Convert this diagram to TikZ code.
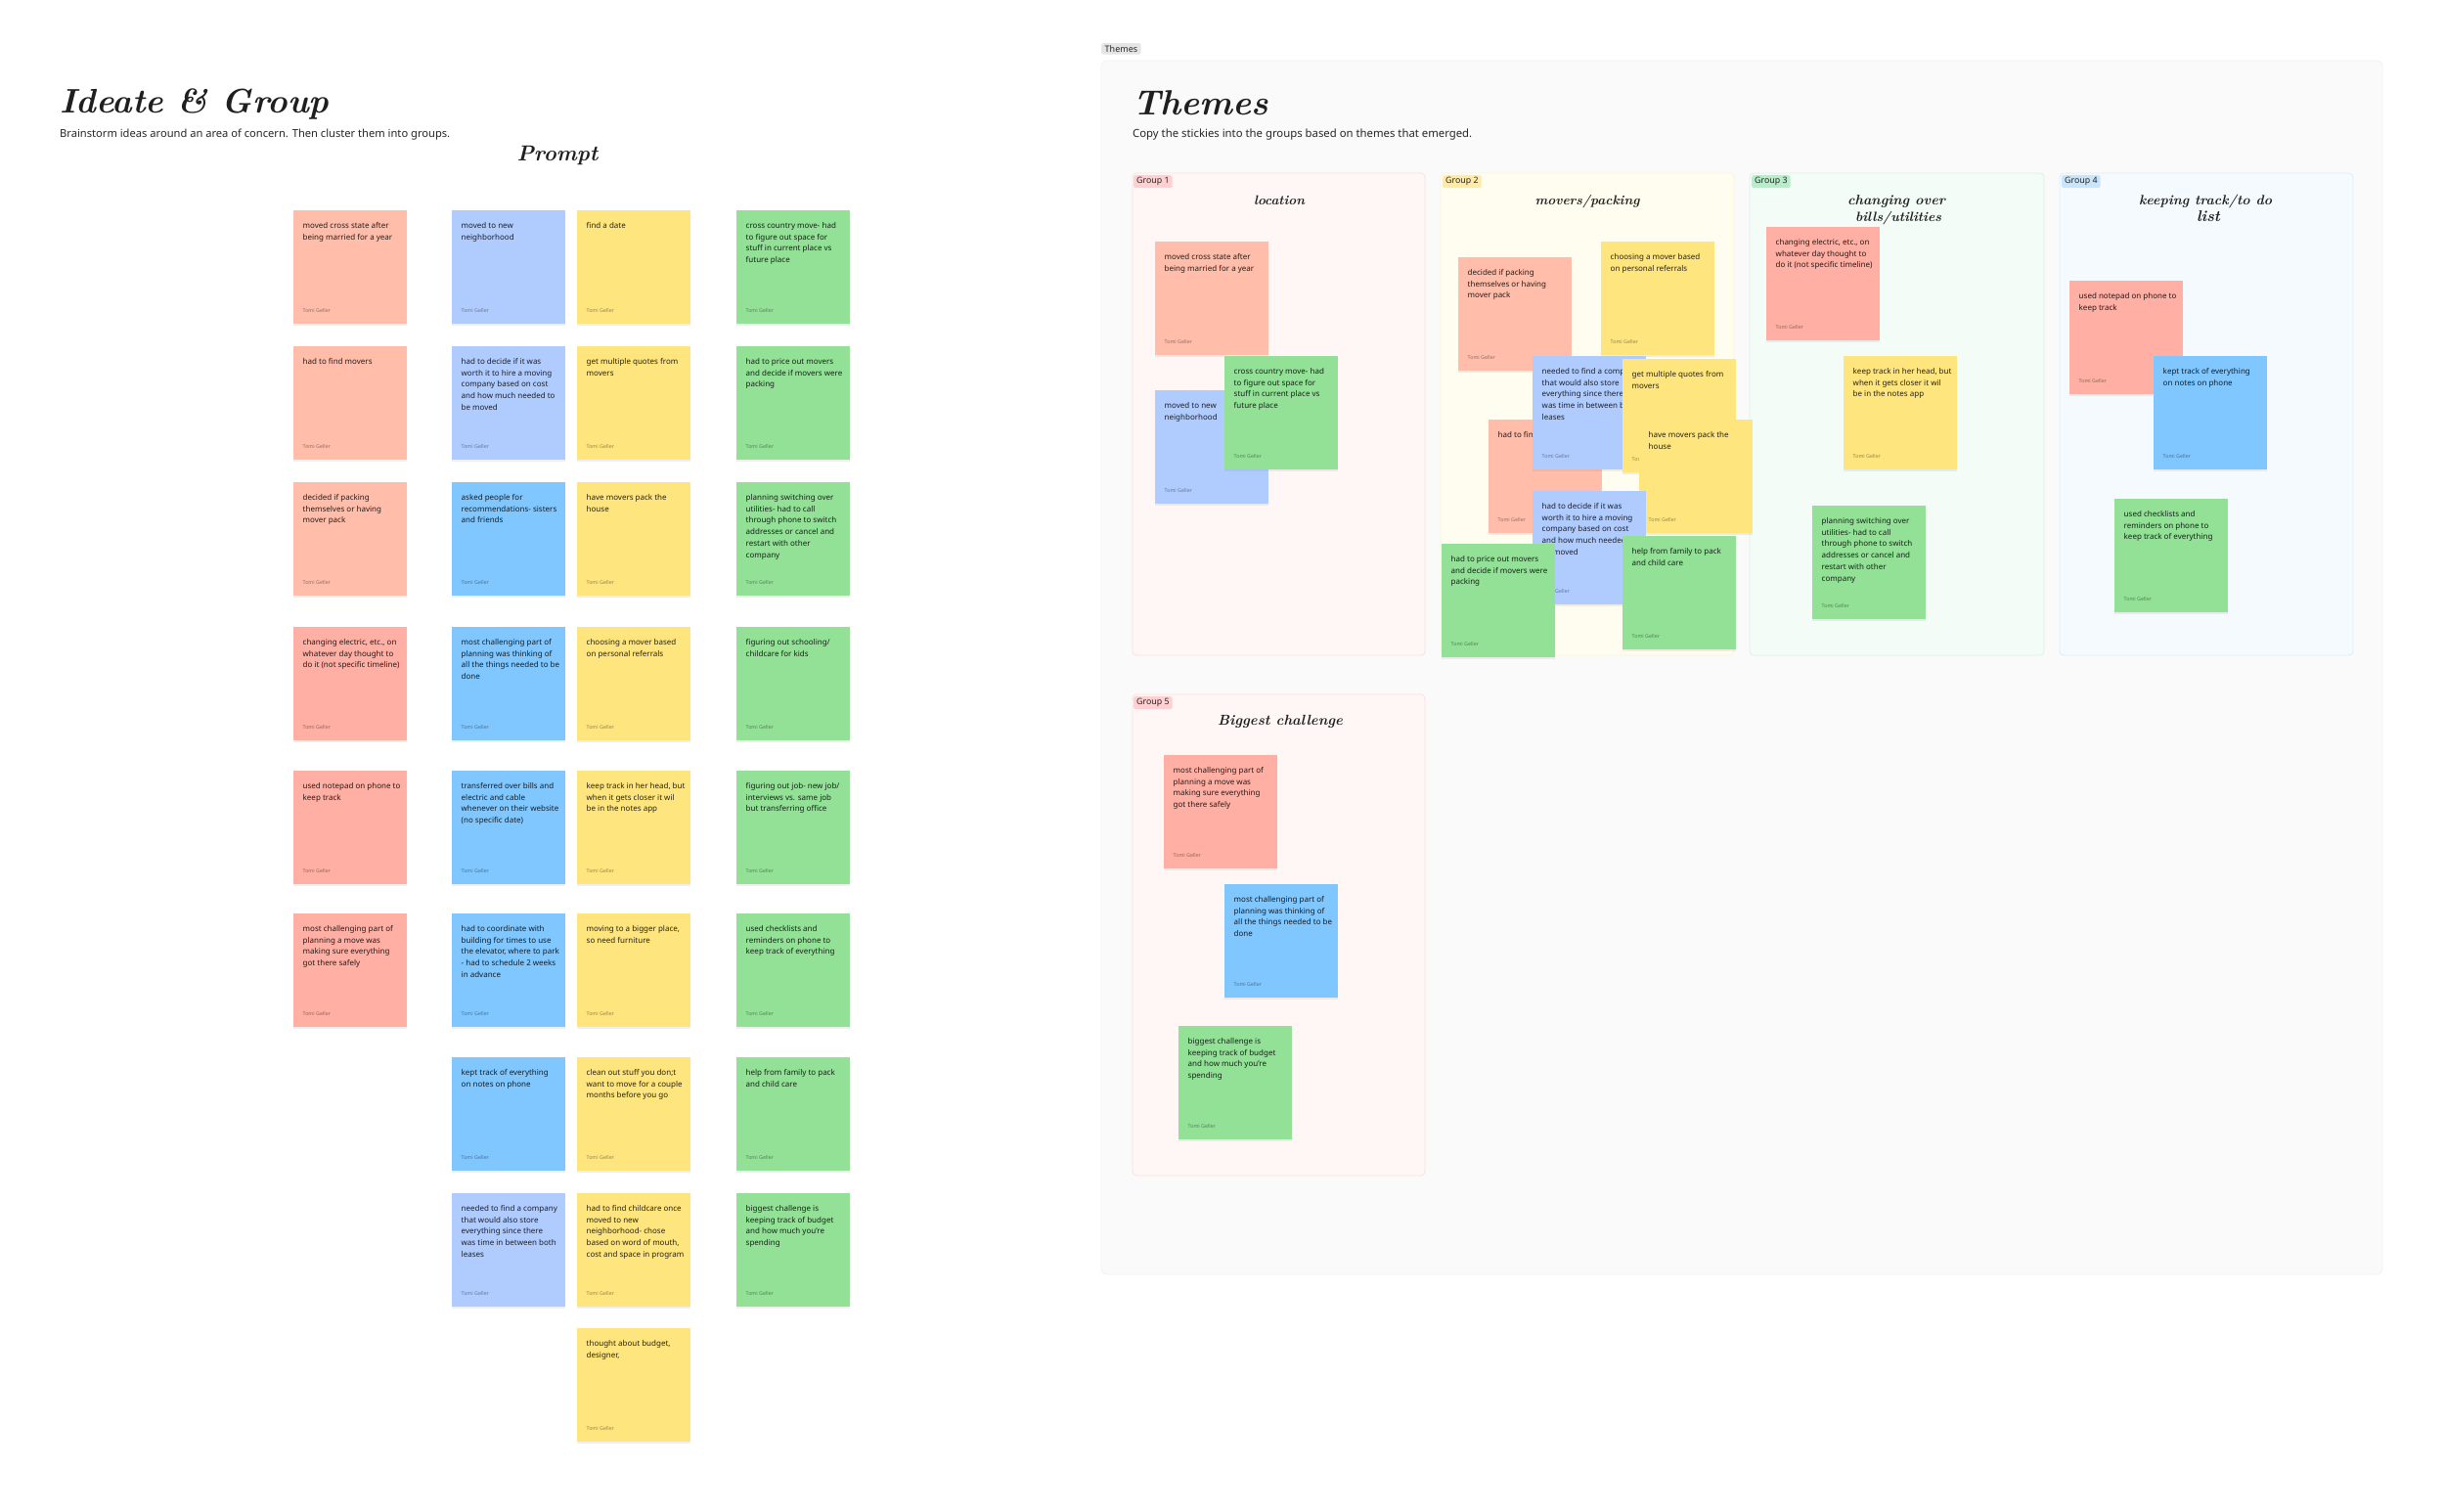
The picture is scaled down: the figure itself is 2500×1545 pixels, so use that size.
\documentclass[tikz,border=0pt]{standalone}
\usepackage{fontspec}
\usepackage{graphicx}
\setmainfont{Noto Sans}
\newfontfamily\handfont{Latin Modern Roman}
\usetikzlibrary{shadows}
\definecolor{salA}{HTML}{FFBDAA}
\definecolor{salB}{HTML}{FFAFA3}
\definecolor{ltblue}{HTML}{B0CCFF}
\definecolor{blu}{HTML}{80C7FF}
\definecolor{yel}{HTML}{FFE57E}
\definecolor{grn}{HTML}{92E197}
\definecolor{gAfill}{HTML}{FFF7F5}
\definecolor{gAline}{HTML}{F7E3DF}
\definecolor{gBfill}{HTML}{FFFDF0}
\definecolor{gBline}{HTML}{FBF4DA}
\definecolor{gCfill}{HTML}{F3FCF6}
\definecolor{gCline}{HTML}{DDF2E4}
\definecolor{gDfill}{HTML}{F5FAFE}
\definecolor{gDline}{HTML}{DFECF7}
\definecolor{tagA}{HTML}{FFD0D2}
\definecolor{tagB}{HTML}{FFEBA6}
\definecolor{tagC}{HTML}{B8EDCA}
\definecolor{tagD}{HTML}{C8E5FB}
\newcommand\hw[2]{\resizebox{#1}{!}{\handfont\bfseries\itshape #2}}
\newcommand\stk[5]{%
  \node[stickybox, fill=#4] (#1) at (#2,#3) {};
  \node[stickytext] (#1-t) at ([xshift=9.5pt, yshift=-18.5pt]#1.north west) {\parbox[t]{150pt}{\raggedright #5}};
  \node[stickyauth] (#1-a) at ([xshift=9.5pt, yshift=-104pt]#1.north west) {Tomi Geller};
}
\tikzset{
  stickybox/.style={anchor=north west, minimum width=116pt, minimum height=116pt, inner sep=0pt, outer sep=0pt, draw=none,
    drop shadow={opacity=0.12, shadow xshift=0pt, shadow yshift=-2pt}},
  stickytext/.style={anchor=base west, inner sep=0pt, font=\fontsize{8}{11.7}\selectfont, text=black, text opacity=0.85},
  stickyauth/.style={anchor=base west, inner sep=0pt, font=\fontsize{5.3}{6}\selectfont, text=black, text opacity=0.42},
  grouptag/.style={anchor=north west, rounded corners=2pt, inner xsep=3pt, inner ysep=2.2pt, font=\fontsize{8.8}{9}\selectfont, text=black!85},
  grouppanel/.style={rounded corners=4pt, line width=0.8pt},
  hwtitle/.style={anchor=base, inner sep=0pt, text=black!88},
}
\begin{document}
\begin{tikzpicture}[x=1pt, y=-1pt]
\useasboundingbox[fill=white] (0,0) rectangle (2500,1545);

% ---------------- Ideate & Group ----------------
\node[anchor=base west, inner sep=0pt, text=black!88] (title1) at (61,115) {\hw{275pt}{Ideate \& Group}};
\node[anchor=base west, inner sep=0pt, text=black!85] (sub1) at (61,140) {\resizebox{399pt}{!}{Brainstorm ideas around an area of concern. Then cluster them into groups.}};
\node[hwtitle] (prompt) at (570,164) {\hw{83pt}{Prompt}};

% column 1
\stk{a1}{300}{215}{salA}{moved cross state after\\being married for a year}
\stk{a2}{300}{354}{salA}{had to find movers}
\stk{a3}{300}{493}{salA}{decided if packing\\themselves or having\\mover pack}
\stk{a4}{300}{641}{salB}{changing electric, etc., on\\whatever day thought to\\do it (not specific timeline)}
\stk{a5}{300}{788}{salB}{used notepad on phone to\\keep track}
\stk{a6}{300}{934}{salB}{most challenging part of\\planning a move was\\making sure everything\\got there safely}
% column 2
\stk{b1}{462}{215}{ltblue}{moved to new\\neighborhood}
\stk{b2}{462}{354}{ltblue}{had to decide if it was\\worth it to hire a moving\\company based on cost\\and how much needed to\\be moved}
\stk{b3}{462}{493}{blu}{asked people for\\recommendations- sisters\\and friends}
\stk{b4}{462}{641}{blu}{most challenging part of\\planning was thinking of\\all the things needed to be\\done}
\stk{b5}{462}{788}{blu}{transferred over bills and\\electric and cable\\whenever on their website\\(no specific date)}
\stk{b6}{462}{934}{blu}{had to coordinate with\\building for times to use\\the elevator, where to park\\- had to schedule 2 weeks\\in advance}
\stk{b7}{462}{1081}{blu}{kept track of everything\\on notes on phone}
\stk{b8}{462}{1220}{ltblue}{needed to find a company\\that would also store\\everything since there\\was time in between both\\leases}
% column 3
\stk{c1}{590}{215}{yel}{find a date}
\stk{c2}{590}{354}{yel}{get multiple quotes from\\movers}
\stk{c3}{590}{493}{yel}{have movers pack the\\house}
\stk{c4}{590}{641}{yel}{choosing a mover based\\on personal referrals}
\stk{c5}{590}{788}{yel}{keep track in her head, but\\when it gets closer it wil\\be in the notes app}
\stk{c6}{590}{934}{yel}{moving to a bigger place,\\so need furniture}
\stk{c7}{590}{1081}{yel}{clean out stuff you don;t\\want to move for a couple\\months before you go}
\stk{c8}{590}{1220}{yel}{had to find childcare once\\moved to new\\neighborhood- chose\\based on word of mouth,\\cost and space in program}
\stk{c9}{590}{1358}{yel}{thought about budget,\\designer,}
% column 4
\stk{d1}{753}{215}{grn}{cross country move- had\\to figure out space for\\stuff in current place vs\\future place}
\stk{d2}{753}{354}{grn}{had to price out movers\\and decide if movers were\\packing}
\stk{d3}{753}{493}{grn}{planning switching over\\utilities- had to call\\through phone to switch\\addresses or cancel and\\restart with other\\company}
\stk{d4}{753}{641}{grn}{figuring out schooling/\\childcare for kids}
\stk{d5}{753}{788}{grn}{figuring out job- new job/\\interviews vs. same job\\but transferring office}
\stk{d6}{753}{934}{grn}{used checklists and\\reminders on phone to\\keep track of everything}
\stk{d7}{753}{1081}{grn}{help from family to pack\\and child care}
\stk{d8}{753}{1220}{grn}{biggest challenge is\\keeping track of budget\\and how much you're\\spending}

% ---------------- Themes ----------------
\node[anchor=north west, fill=black!10, rounded corners=2pt, inner xsep=3.5pt, inner ysep=2.2pt, font=\fontsize{9}{9.5}\selectfont, text=black!85] (themestag) at (1126,44) {Themes};
\draw[fill=black!2, draw=black!5, rounded corners=6pt, line width=0.8pt] (1126,62) rectangle (2436,1303);
\node[anchor=base west, inner sep=0pt, text=black!88] (title2) at (1158,117) {\hw{139pt}{Themes}};
\node[anchor=base west, inner sep=0pt, text=black!85] (sub2) at (1158,140) {\resizebox{347pt}{!}{Copy the stickies into the groups based on themes that emerged.}};

% group panels
\draw[grouppanel, fill=gAfill, draw=gAline] (1158,177) rectangle (1457,670);
\draw[grouppanel, fill=gBfill, draw=gBline] (1473,177) rectangle (1773,670);
\draw[grouppanel, fill=gCfill, draw=gCline] (1789,177) rectangle (2090,670);
\draw[grouppanel, fill=gDfill, draw=gDline] (2106,177) rectangle (2406,670);
\draw[grouppanel, fill=gAfill, draw=gAline] (1158,710) rectangle (1457,1202);

\node[grouptag, fill=tagA] (g1tag) at (1159,179) {Group 1};
\node[grouptag, fill=tagB] (g2tag) at (1475,179) {Group 2};
\node[grouptag, fill=tagC] (g3tag) at (1791,179) {Group 3};
\node[grouptag, fill=tagD] (g4tag) at (2108,179) {Group 4};
\node[grouptag, fill=tagA] (g5tag) at (1159,712) {Group 5};

\node[hwtitle] (g1title) at (1308,209) {\hw{52pt}{location}};
\node[hwtitle] (g2title) at (1623,209) {\hw{107pt}{movers/packing}};
\node[hwtitle] (g3titleA) at (1939,209) {\hw{100pt}{changing over}};
\node[hwtitle] (g3titleB) at (1941,226) {\hw{88pt}{bills/utilities}};
\node[hwtitle] (g4titleA) at (2255,209) {\hw{136pt}{keeping track/to do}};
\node[hwtitle] (g4titleB) at (2258,226) {\hw{24pt}{list}};
\node[hwtitle] (g5title) at (1309,741) {\hw{128pt}{Biggest challenge}};

% group 1
\stk{e1}{1181}{247}{salA}{moved cross state after\\being married for a year}
\stk{e2}{1181}{399}{ltblue}{moved to new\\neighborhood}
\stk{e3}{1252}{364}{grn}{cross country move- had\\to figure out space for\\stuff in current place vs\\future place}
% group 2
\stk{f1}{1491}{263}{salA}{decided if packing\\themselves or having\\mover pack}
\stk{f2}{1637}{247}{yel}{choosing a mover based\\on personal referrals}
\stk{f3}{1522}{429}{salA}{had to find movers}
\stk{f4}{1567}{364}{ltblue}{needed to find a company\\that would also store\\everything since there\\was time in between both\\leases}
\stk{f5}{1659}{367}{yel}{get multiple quotes from\\movers}
\stk{f6}{1676}{429}{yel}{have movers pack the\\house}
\stk{f7}{1567}{502}{ltblue}{had to decide if it was\\worth it to hire a moving\\company based on cost\\and how much needed to\\be moved}
\stk{f8}{1474}{556}{grn}{had to price out movers\\and decide if movers were\\packing}
\stk{f9}{1659}{548}{grn}{help from family to pack\\and child care}
% group 3
\stk{h1}{1806}{232}{salB}{changing electric, etc., on\\whatever day thought to\\do it (not specific timeline)}
\stk{h2}{1885}{364}{yel}{keep track in her head, but\\when it gets closer it wil\\be in the notes app}
\stk{h3}{1853}{517}{grn}{planning switching over\\utilities- had to call\\through phone to switch\\addresses or cancel and\\restart with other\\company}
% group 4
\stk{k1}{2116}{287}{salB}{used notepad on phone to\\keep track}
\stk{k2}{2202}{364}{blu}{kept track of everything\\on notes on phone}
\stk{k3}{2162}{510}{grn}{used checklists and\\reminders on phone to\\keep track of everything}
% group 5
\stk{m1}{1190}{772}{salB}{most challenging part of\\planning a move was\\making sure everything\\got there safely}
\stk{m2}{1252}{904}{blu}{most challenging part of\\planning was thinking of\\all the things needed to be\\done}
\stk{m3}{1205}{1049}{grn}{biggest challenge is\\keeping track of budget\\and how much you're\\spending}
\end{tikzpicture}
\end{document}
